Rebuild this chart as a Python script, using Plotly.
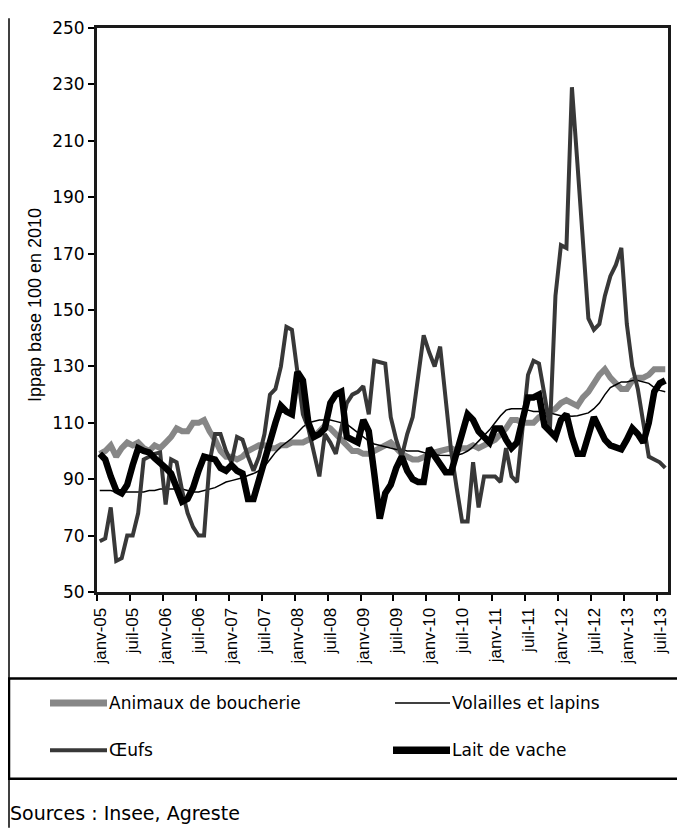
import plotly.graph_objects as go

# ---- data (monthly, Jan 2005 .. Aug 2013) ----
months = list(range(104))
tick_labels = ["janv-05", "juil-05", "janv-06", "juil-06", "janv-07", "juil-07",
               "janv-08", "juil-08", "janv-09", "juil-09", "janv-10", "juil-10",
               "janv-11", "juil-11", "janv-12", "juil-12", "janv-13", "juil-13"]

animaux = [99, 100, 102, 98, 101, 103, 102, 103, 101, 100,
           102, 101, 103, 105, 108, 107, 107, 110, 110, 111,
           107, 104, 100, 98, 98, 97, 98, 100, 101, 102,
           102, 101, 101, 102, 102, 103, 103, 103, 104, 105,
           107, 109, 108, 106, 104, 102, 100, 100, 99, 99,
           100, 101, 102, 103, 101, 99, 98, 97, 97, 98,
           99, 99.5, 100, 100.5, 101, 100, 101, 101, 102, 101,
           102, 103, 104, 106, 108, 111, 111, 110, 110, 110,
           112, 113, 114, 115, 117, 118, 117, 116, 119, 121,
           124, 127, 129, 126, 124, 122, 122, 125, 126, 126,
           127, 129, 129, 129]

volailles = [86, 86, 86, 85.5, 85.5, 85.5, 85.5, 85.5, 85.5, 86,
             86, 86.5, 86.5, 86.5, 86.5, 86.5, 86, 85.5, 85.5, 86,
             86.5, 87, 88, 89,
             89.5, 90, 90.5, 91.3, 92, 93, 94.5, 97, 99.5, 101.5,
             103, 104.5, 106.5, 108.5, 110, 110.5, 111, 111, 111, 110.5,
             110, 109.5, 108, 106.5, 105, 103.5, 102.5, 102, 101.5, 101,
             100.5, 100.5, 100, 100, 100, 99.5, 99, 98.7, 98.5, 98.4,
             98.4, 98.5, 99, 100, 101.5, 103.5, 105.5, 107.5, 110, 112.5,
             114.5, 115, 115, 115, 114.5, 114, 114, 113.5, 113.5, 113,
             112.5, 112.5, 112.3, 112.5, 113, 113.5, 115, 117, 120, 122.5,
             123.5, 124.5, 124.5, 125, 125, 124.5, 124, 122.5, 121.5, 121]

oeufs = [68, 69, 80, 61, 62, 70, 70, 78, 97, 98,
         99, 99.5, 81, 97, 96, 86, 78, 73, 70, 70,
         96, 106, 106, 100, 96, 105, 104, 98, 93, 98,
         106, 120, 122, 130, 144, 143, 128, 113, 108, 99,
         91, 106, 103, 99, 108, 117, 120, 121, 123, 113,
         132, 131.5, 131, 112, 104, 98, 106, 112, 127, 141,
         135, 130, 137, 118, 100, 87, 75, 75, 96, 80,
         91, 91, 91, 89, 101, 91, 89, 108, 127, 132,
         131, 120, 108, 155, 173, 172, 229, 202, 175, 147,
         143, 145, 155, 162, 166, 172, 145, 130, 122, 111,
         98, 97, 96, 94]

lait = [99, 97, 91, 86, 85, 88, 95, 101, 100, 99.5,
        97.5, 96, 94, 92, 87, 82, 83, 87, 93, 98,
        97.5, 97, 94, 93, 95, 93, 92, 83, 83, 90,
        98, 103, 110, 116, 114, 113, 128, 125, 110, 105,
        106, 108, 117, 120, 121, 105, 104, 103, 111, 107,
        92, 76, 85, 88, 94, 98, 93, 90, 89, 89,
        101, 98, 95, 92.5, 92.5, 99, 107, 113, 111, 107,
        105, 103, 108, 108, 104, 101, 103, 112, 119, 119,
        120, 109, 107, 105, 111, 113, 105, 99, 99, 106,
        112, 108, 104, 102, 101, 100.6, 104, 108, 106, 103,
        110, 121, 124, 125]

series_names = ["Animaux de boucherie", "Volailles et lapins", "Œufs", "Lait de vache"]
series_data = [animaux, volailles, oeufs, lait]
series_colors = ["#878787", "#000000", "#383838", "#000000"]
series_widths = [6, 1.5, 4, 6.5]

FONT_H = "DejaVu Sans, Liberation Sans, sans-serif"     # horizontal texts
FONT_V = "Liberation Sans, Arial, sans-serif"           # rotated texts

fig = go.Figure()
for name, vals, col, w in zip(series_names, series_data, series_colors, series_widths):
    fig.add_trace(go.Scatter(x=months, y=vals, mode="lines", name=name,
                             line=dict(color=col, width=w), hoverinfo="skip"))

# figure is placed at page offset (8, 8) by the default body margin
W, H = 677, 824
# plot area in figure pixels
L, R, T, B = 89, 660, 10, 584


def px(x):
    return (x - L) / (R - L)


def py(y):
    return (B - y) / (B - T)


fig.update_layout(
    width=W, height=H,
    margin=dict(l=L, r=W - R, t=T, b=H - B),
    paper_bgcolor="white", plot_bgcolor="white",
    showlegend=False,
    font=dict(family=FONT_H, size=17, color="black"),
)

fig.update_xaxes(
    range=[-0.5, 103.5],
    tickmode="array",
    tickvals=[i - 0.5 for i in range(0, 104, 6)],
    ticktext=tick_labels,
    tickangle=-90,
    ticklabelshift=3,
    ticks="outside", ticklen=6, tickwidth=1.5, tickcolor="black",
    showline=True, linewidth=3, linecolor="#1a1a1a", mirror=True,
    showgrid=False, zeroline=False,
    tickfont=dict(family=FONT_V, size=17, color="black"),
)
fig.update_yaxes(
    range=[50, 250], dtick=20, tick0=50,
    ticks="outside", ticklen=6, tickwidth=1.5, tickcolor="black",
    showline=True, linewidth=3, linecolor="#1a1a1a", mirror=True,
    showgrid=False, zeroline=False,
    tickfont=dict(family=FONT_H, size=17, color="black"),
)

shapes = []
annotations = []

# outer left border line
shapes.append(dict(type="line", xref="paper", yref="paper",
                   x0=px(1), x1=px(1), y0=py(H), y1=py(0),
                   line=dict(color="black", width=1.5)))
# legend box
shapes.append(dict(type="rect", xref="paper", yref="paper",
                   x0=px(1), x1=px(W + 5), y0=py(774), y1=py(672),
                   line=dict(color="black", width=2.5), fillcolor="rgba(0,0,0,0)"))

legend_pos = [(42, 99, 697), (387, 442, 697), (42, 99, 745), (385, 442, 745)]
for (x0, x1, yy), name, col, w in zip(legend_pos, series_names, series_colors, series_widths):
    lw = w + 1 if w > 5 else w
    shapes.append(dict(type="line", xref="paper", yref="paper",
                       x0=px(x0), x1=px(x1), y0=py(yy), y1=py(yy),
                       line=dict(color=col, width=lw)))
    annotations.append(dict(xref="paper", yref="paper", x=px(x1), y=py(yy),
                            text=name, showarrow=False, xanchor="left", yanchor="middle",
                            font=dict(family=FONT_H, size=17, color="black")))

# y axis title
annotations.append(dict(xref="paper", yref="paper", x=px(27), y=py(292),
                        text="Ippap base 100 en 2010", textangle=-90, showarrow=False,
                        xanchor="center", yanchor="middle",
                        font=dict(family=FONT_V, size=18, color="black")))
# source
annotations.append(dict(xref="paper", yref="paper", x=px(0), y=py(809),
                        text="Sources : Insee, Agreste", showarrow=False,
                        xanchor="left", yanchor="middle",
                        font=dict(family=FONT_H, size=19, color="black")))

fig.update_layout(shapes=shapes, annotations=annotations)

fig.write_html("out.html")
